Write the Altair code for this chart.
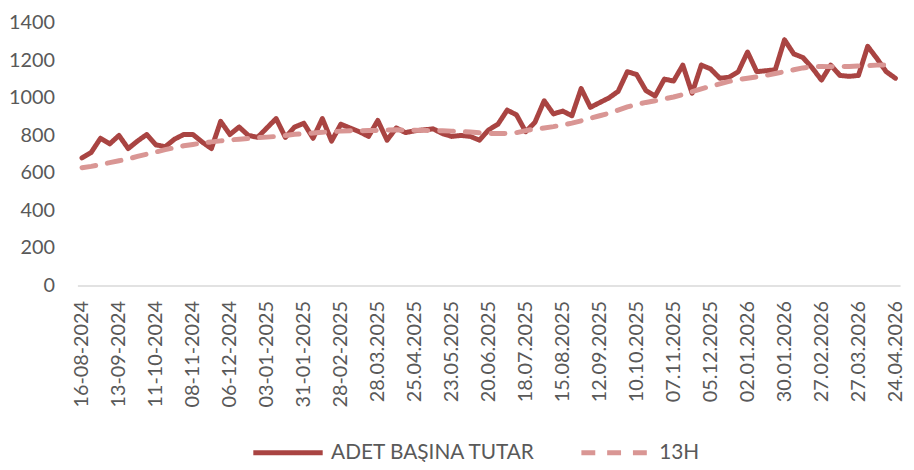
import altair as alt
import pandas as pd

# weekly categories (16-08-2024 ... 24.04.2026)
start = pd.Timestamp("2024-08-16")
week_dates = [start + pd.Timedelta(days=7 * k) for k in range(89)]
categories = [
    d.strftime("%d-%m-%Y") if d <= pd.Timestamp("2025-02-28") else d.strftime("%d.%m.%Y")
    for d in week_dates
]

tick_labels = [
    "16-08-2024", "13-09-2024", "11-10-2024", "08-11-2024", "06-12-2024",
    "03-01-2025", "31-01-2025", "28-02-2025", "28.03.2025", "25.04.2025",
    "23.05.2025", "20.06.2025", "18.07.2025", "15.08.2025", "12.09.2025",
    "10.10.2025", "07.11.2025", "05.12.2025", "02.01.2026", "30.01.2026",
    "27.02.2026", "27.03.2026", "24.04.2026",
]

adet_basina_tutar = [
    680, 710, 785, 755, 800, 730, 770, 805, 750, 740,
    780, 805, 805, 765, 730, 875, 805, 845, 800, 790,
    840, 890, 790, 845, 865, 785, 890, 770, 860, 840,
    820, 795, 880, 775, 840, 815, 825, 830, 835, 810,
    795, 800, 795, 775, 830, 860, 935, 910, 820, 870,
    985, 915, 930, 905, 1050, 950, 975, 1000, 1035, 1140,
    1125, 1040, 1010, 1100, 1090, 1175, 1025, 1175, 1155, 1105,
    1110, 1140, 1245, 1140, 1145, 1150, 1310, 1235, 1215, 1160,
    1095, 1175, 1120, 1115, 1120, 1275, 1210, 1140, 1105,
]

h13 = [
    628, 635, 645, 655, 665, 675, 688, 700, 712, 724,
    735, 745, 752, 760, 766, 771, 776, 780, 784, 788,
    791, 795, 800, 806, 810, 813, 817, 820, 823, 825,
    825, 826, 827, 829, 830, 829, 828, 827, 826, 825,
    823, 821, 818, 814, 811, 810, 811, 815, 826, 834,
    840, 847, 856, 866, 878, 892, 905, 918, 935, 952,
    965, 976, 985, 995, 1005, 1018, 1033, 1048, 1062, 1075,
    1088, 1098, 1105, 1112, 1120, 1130, 1140, 1150, 1160, 1166,
    1168, 1167, 1167, 1168, 1170, 1172, 1175, 1176, 1177,
]

series_names = ["ADET BAŞINA TUTAR", "13H"]

df = pd.DataFrame({
    "tarih": categories * 2,
    "deger": adet_basina_tutar + h13,
    "seri": [series_names[0]] * len(categories) + [series_names[1]] * len(categories),
    "idx": list(range(len(categories))) * 2,
})

TEXT = "#595959"
FONT = "Lato"

legend_props = dict(
    title=None, orient="none", direction="horizontal", legendX=175, legendY=396,
    symbolType="stroke", symbolSize=4900, symbolStrokeWidth=5,
    labelFontSize=21, labelColor=TEXT, labelFont=FONT, labelOffset=6,
    labelLimit=400, columnPadding=35, padding=0,
)

x_enc = alt.X(
    "tarih:N",
    sort=categories,
    scale=alt.Scale(type="point", padding=0.5),
    axis=alt.Axis(
        values=tick_labels, title=None, labelAngle=-90, labelFontSize=20,
        labelColor=TEXT, labelFont=FONT, labelPadding=15, ticks=False, tickSize=0,
        domainColor="#D9D9D9", domainWidth=1.5, grid=False,
    ),
)
y_enc = alt.Y(
    "deger:Q",
    scale=alt.Scale(domain=[0, 1400], nice=False),
    axis=alt.Axis(
        values=[0, 200, 400, 600, 800, 1000, 1200, 1400], format="d", title=None,
        labelFontSize=20, labelColor=TEXT, labelFont=FONT, labelPadding=23,
        ticks=False, tickSize=0, domain=False, grid=False,
    ),
)
color_enc = alt.Color(
    "seri:N",
    scale=alt.Scale(domain=series_names, range=["#A94442", "#D99694"]),
    legend=alt.Legend(**legend_props),
)
dash_enc = alt.StrokeDash(
    "seri:N",
    scale=alt.Scale(domain=series_names, range=[[1, 0], [14, 12]]),
    legend=alt.Legend(**legend_props),
)

base = alt.Chart(df).encode(
    x=x_enc, y=y_enc, color=color_enc, strokeDash=dash_enc,
    order=alt.Order("idx:Q"),
)

red = base.transform_filter(alt.datum.seri == series_names[0]).mark_line(
    strokeWidth=5, strokeJoin="round", strokeCap="round"
)
pink = base.transform_filter(alt.datum.seri == series_names[1]).mark_line(
    strokeWidth=5, strokeJoin="round", strokeCap="round"
)

chart = alt.layer(red, pink).properties(
    width=830,
    height=265,
    background="white",
    autosize=alt.AutoSizeParams(type="none"),
    padding={"left": 70, "top": 13, "right": 6, "bottom": 176},
).configure_view(stroke=None)

chart.save("out.html", embed_options={"renderer": "svg", "actions": False})
